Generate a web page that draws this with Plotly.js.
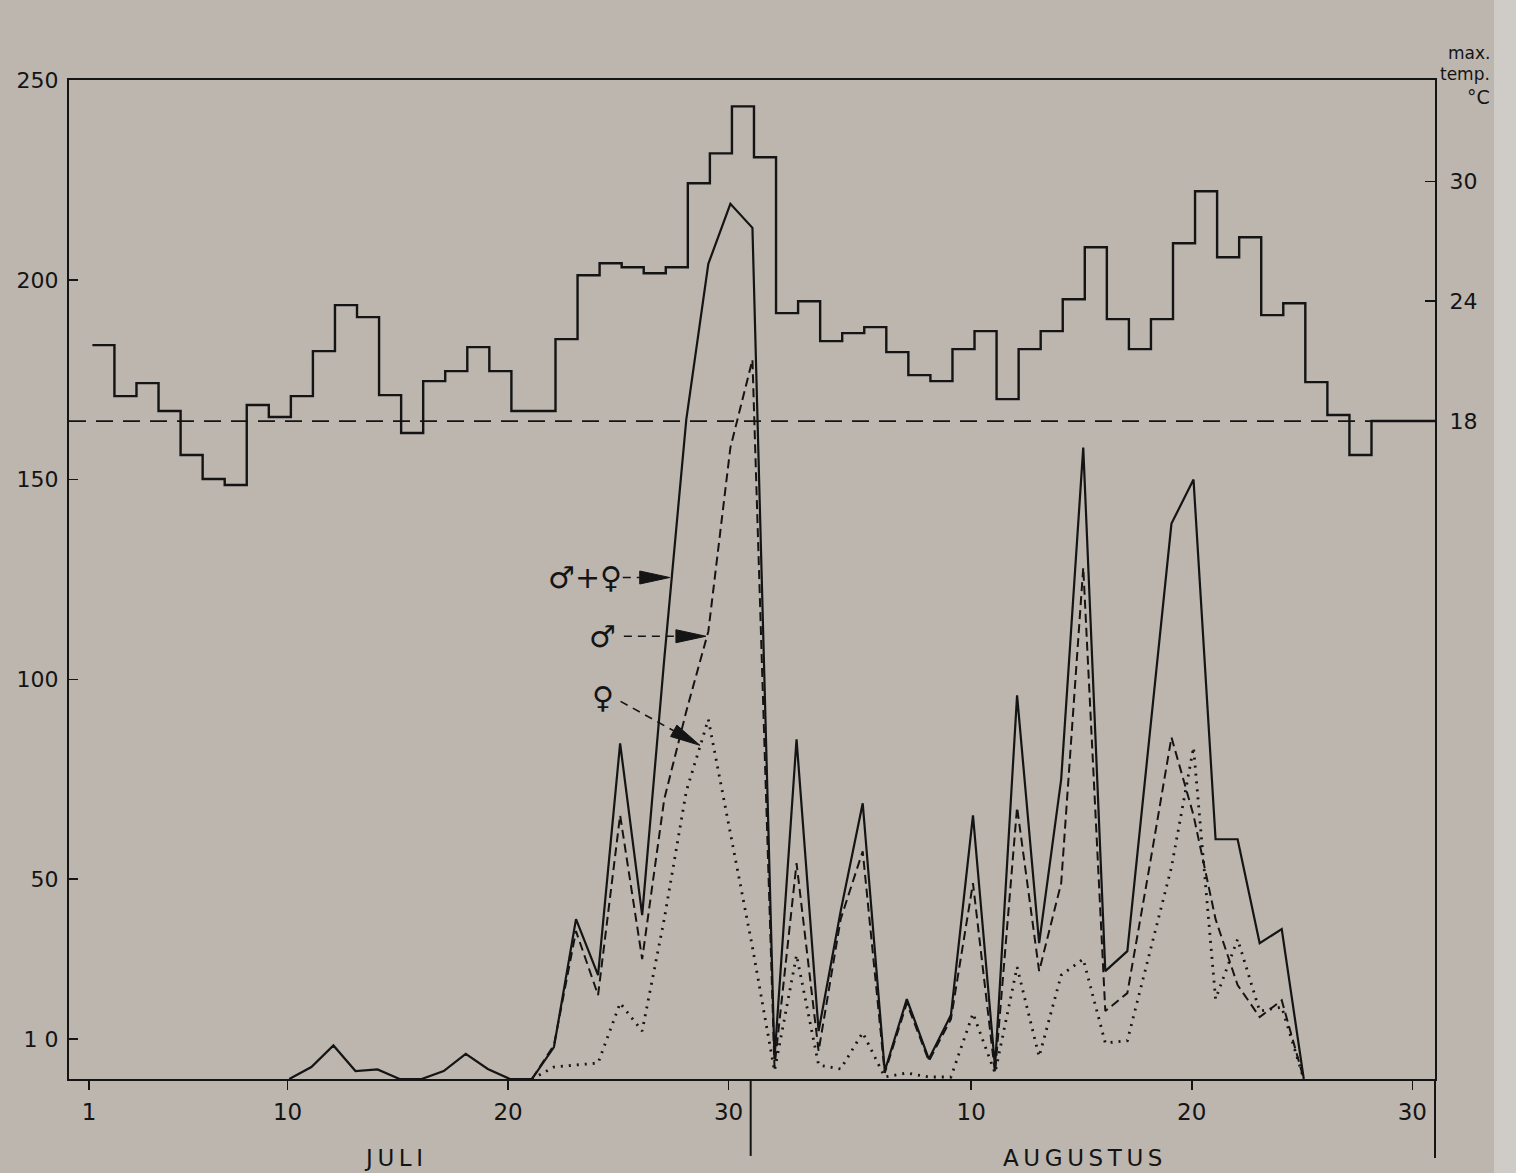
<!DOCTYPE html>
<html><head><meta charset="utf-8">
<script src="https://cdn.plot.ly/plotly-3.0.1.min.js"></script>
<style>html,body{margin:0;padding:0;background:#bcb6af}</style>
</head><body><div id="chart" style="width:1516px;height:1173px"></div>
<script>
// ---- data ----
const tempDays = [1,2,3,4,5,6,7,8,9,10,11,12,13,14,15,16,17,18,19,20,21,22,23,24,25,26,27,28,29,30,31,32,33,34,35,36,37,38,39,40,41,42,43,44,45,46,47,48,49,50,51,52,53,54,55,56,57,58,59,60,61];
const tempMax = [21.8,19.25,19.9,18.5,16.3,15.1,14.8,18.8,18.2,19.25,21.5,23.8,23.2,19.3,17.4,20.0,20.5,21.7,20.5,18.5,18.5,22.1,25.3,25.9,25.7,25.4,25.7,29.9,31.4,33.75,31.2,23.4,24.0,22.0,22.4,22.7,21.45,20.3,20.0,21.6,22.5,19.1,21.6,22.5,24.1,26.7,23.1,21.6,23.1,26.9,29.5,26.2,27.2,23.3,23.9,19.95,18.3,16.3,18.0,18.0,18.0];
const totalDays = [10,11,12,13,14,15,16,17,18,19,20,21,22,23,24,25,26,27,28,29,30,31,32,33,34,35,36,37,38,39,40,41,42,43,44,45,46,47,48,49,50,51,52,53,54,55,56];
const totalCatch = [0,3,8.4,2,2.4,0,0,2,6.3,2.5,0,0,8,40,26,84,41,105,165,204,219,213,5,85,12,42,69,2,20,5,16,66,3,96,34,75,158,27,32,85,139,150,60,60,34,37.5,0];
const sexDays = [21,22,23,24,25,26,27,28,29,30,31,32,33,34,35,36,37,38,39,40,41,42,43,44,45,46,47,48,49,50,51,52,53,54,55,56];
const maleCatch = [0,8.5,37,21,66,30,70,92,112,158,180,3,54,7,40,57,1.5,19,4.5,15,49,1.5,68,27,49,128,17,21.5,53,85.5,66,40,23.5,15.5,19.7,0];
const femaleCatch = [0,3,3.5,4,19,12,40,72,90,61,33,2,31,3.5,2.5,11.6,0.5,1.5,0.5,0.5,16.4,1.5,28,5.6,26,30,9,9.6,31,53,83,20,35,17,18,0];
const xTickDays = [1,10,20,30,41,51,61];
const xTickLabels = ['1','10','20','30','10','20','30'];
const yTickVals = [10,50,100,150,200,250];
const yTickText = ['1 0','50','100','150','200','250'];
const tempTickVals = [18,24,30];
const tempReference = 18;
const tempAxisLabel = ['max.','temp.','\u00b0C'];
const monthLabels = ['J\u2009U\u2009L\u2009I','A\u2009U\u2009G\u2009U\u2009S\u2009T\u2009U\u2009S'];
const monthCentres = [14.8, 46.05];
const monthBoundary = 31;
const sexLabels = ['\u2642+\u2640','\u2642','\u2640'];
const sexLabelPos = [[23.5,125.5],[24.3,110.8],[24.3,95.5]];
const arrowTails = [[25.2,125.5],[25.25,110.8],[25.1,94.5]];
const arrowTips = [[27.33,125.5],[28.97,110.8],[28.7,83.5]];

// ---- layout geometry ----
const W = 1516, H = 1173;
const M = {l:69, r:81, t:80, b:94};
const xRange = [0.09, 62.03];
const yRange = [0, 250];
// temperature axis: 18 C sits at 164.67 on the count axis, 5 count units per degree
const y2Range = [-14.93, 35.07];
const stepOffset = 0.15, lineOffset = 0.08;

const ink = '#141414';
const bg = '#bcb6af';
const plotW = W - M.l - M.r, plotH = H - M.t - M.b;
const pxPerDay = plotW / (xRange[1] - xRange[0]);
const pxPerUnit = plotH / (yRange[1] - yRange[0]);

const tempX = tempDays.map(d => d + stepOffset).concat([xRange[1]]);
const tempY = tempMax.concat([tempMax[tempMax.length - 1]]);

const traces = [
  {x: tempX, y: tempY, yaxis: 'y2', mode: 'lines', line: {shape: 'hv', color: ink, width: 2.4}, hoverinfo: 'skip'},
  {x: totalDays.map(d => d + lineOffset), y: totalCatch, mode: 'lines', line: {color: ink, width: 2.2}},
  {x: sexDays.map(d => d + lineOffset), y: maleCatch, mode: 'lines', line: {color: ink, width: 2, dash: '9px,5px'}},
  {x: sexDays.map(d => d + lineOffset), y: femaleCatch, mode: 'lines', line: {color: ink, width: 2.8, dash: '2px,6px'}}
];

const shapes = [
  // lighter paper edge at the far right of the photograph
  {type: 'rect', xref: 'paper', yref: 'paper', x0: (1494 - M.l) / plotW, x1: (W - M.l) / plotW,
   y0: -M.b / plotH, y1: 1 + M.t / plotH, fillcolor: '#cfccc8', line: {width: 0}, layer: 'below'},
  {type: 'line', xref: 'paper', yref: 'y2', x0: 0, x1: 1, y0: tempReference, y1: tempReference,
   line: {color: ink, width: 1.8, dash: '17px,10px'}},
  {type: 'line', xref: 'x', yref: 'paper', x0: monthBoundary, x1: monthBoundary, y0: 0, y1: -0.077,
   line: {color: ink, width: 2}},
  {type: 'line', xref: 'paper', yref: 'paper', x0: 1, x1: 1, y0: -0.079, y1: 0, line: {color: ink, width: 2}}
];

const annotations = [];
sexLabels.forEach((t, i) => {
  annotations.push({x: sexLabelPos[i][0], y: sexLabelPos[i][1], xref: 'x', yref: 'y', text: t, showarrow: false,
    font: {family: 'DejaVu Sans', size: 30, color: ink}});
});
arrowTips.forEach((tip, i) => {
  const tail = arrowTails[i];
  const dx = (tip[0] - tail[0]) * pxPerDay, dy = (tip[1] - tail[1]) * pxPerUnit;
  const len = Math.hypot(dx, dy), ux = dx / len, uy = dy / len;
  const headLen = 30, headHalf = 6.5;
  const bx = -headLen * ux, by = -headLen * uy;
  const px = -uy * headHalf, py = ux * headHalf;
  const toData = (ox, oy) => [tip[0] + ox / pxPerDay, tip[1] + oy / pxPerUnit];
  const b1 = toData(bx + px, by + py), b2 = toData(bx - px, by - py), base = toData(bx, by);
  shapes.push({type: 'line', xref: 'x', yref: 'y', x0: tail[0], y0: tail[1], x1: base[0], y1: base[1],
    line: {color: ink, width: 1.6, dash: '8px,6px'}});
  shapes.push({type: 'path', xref: 'x', yref: 'y',
    path: `M${tip[0]},${tip[1]} L${b1[0]},${b1[1]} L${b2[0]},${b2[1]} Z`,
    fillcolor: ink, line: {color: ink, width: 1}});
});
monthLabels.forEach((t, i) => {
  annotations.push({x: monthCentres[i], y: -0.079, xref: 'x', yref: 'paper', text: t, showarrow: false,
    yanchor: 'middle', font: {family: 'DejaVu Sans', size: 23, color: ink}});
});
// temperature axis caption, three stacked lines right of the axis top
const capY = [53, 74, 97];
tempAxisLabel.forEach((t, i) => {
  annotations.push({x: 1, y: 1 + (M.t - capY[i]) / plotH, xref: 'paper', yref: 'paper',
    xanchor: 'right', yanchor: 'middle', xshift: 1492 - (M.l + plotW), text: t, showarrow: false,
    font: {family: 'DejaVu Sans', size: i === 2 ? 19 : 17, color: ink}});
});

const layout = {
  width: W, height: H, margin: M, showlegend: false,
  paper_bgcolor: bg, plot_bgcolor: bg,
  font: {family: 'DejaVu Sans', color: ink},
  xaxis: {range: xRange, tickvals: xTickDays, ticktext: xTickLabels, ticks: 'outside', ticklen: 9, tickwidth: 1.5,
    tickcolor: ink, showline: true, mirror: true, linecolor: ink, linewidth: 2, showgrid: false, zeroline: false,
    tickfont: {size: 23, color: ink}, ticklabelstandoff: 2},
  yaxis: {range: yRange, tickvals: yTickVals, ticktext: yTickText, ticks: 'inside', ticklen: 9, tickwidth: 1.5, tickcolor: ink,
    showline: true, linecolor: ink, linewidth: 2, showgrid: false, zeroline: false,
    tickfont: {size: 22, color: ink}, ticklabelstandoff: 4},
  yaxis2: {range: y2Range, overlaying: 'y', side: 'right', tickvals: tempTickVals, ticks: 'inside', ticklen: 10,
    tickwidth: 1.5, tickcolor: ink, showline: true, linecolor: ink, linewidth: 2, showgrid: false, zeroline: false,
    tickfont: {size: 22, color: ink}, ticklabelstandoff: 8},
  shapes: shapes, annotations: annotations
};

Plotly.newPlot('chart', traces, layout, {staticPlot: true});
</script></body></html>
